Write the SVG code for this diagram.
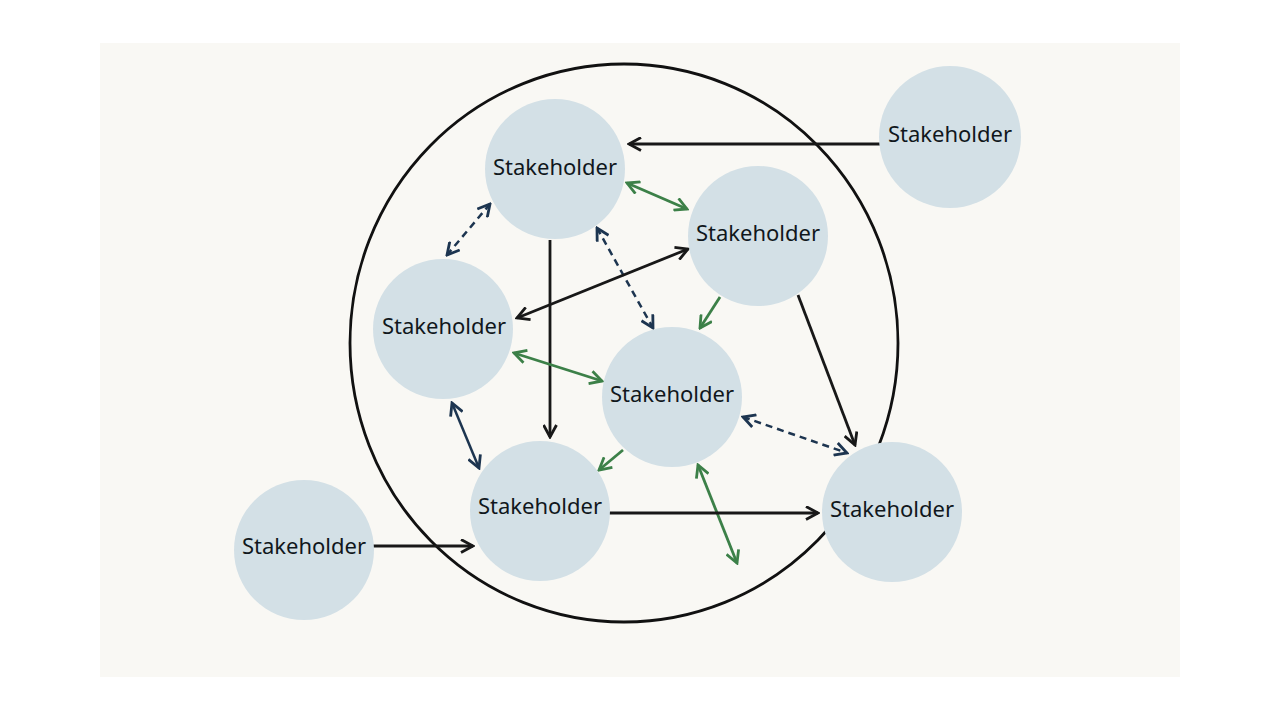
<svg xmlns="http://www.w3.org/2000/svg" width="1280" height="720" viewBox="0 0 1280 720">
<defs>
<style>
.node circle{fill:#d3e0e6}
.node text{font-family:"Noto Sans","Open Sans","DejaVu Sans",sans-serif;font-size:22px;font-weight:normal;fill:#10171c;text-anchor:middle}
.blk{stroke:#181818;stroke-width:2.8;fill:none}
.grn{stroke:#3c8048;stroke-width:2.8;fill:none}
.nvy{stroke:#1d3550;stroke-width:2.5;fill:none}
.dash{stroke-dasharray:7 5}
</style>
<marker id="aB" viewBox="0 0 15 15" refX="13" refY="7.5" markerWidth="15" markerHeight="15" markerUnits="userSpaceOnUse" orient="auto-start-reverse"><path d="M1,1 L13,7.5 L1,14" fill="none" stroke="#181818" stroke-width="2.8"/></marker>
<marker id="aG" viewBox="0 0 15 15" refX="13" refY="7.5" markerWidth="15" markerHeight="15" markerUnits="userSpaceOnUse" orient="auto-start-reverse"><path d="M1,1 L13,7.5 L1,14" fill="none" stroke="#3c8048" stroke-width="2.8"/></marker>
<marker id="aN" viewBox="0 0 15 15" refX="13" refY="7.5" markerWidth="15" markerHeight="15" markerUnits="userSpaceOnUse" orient="auto-start-reverse"><path d="M1,1 L13,7.5 L1,14" fill="none" stroke="#1d3550" stroke-width="2.8"/></marker>
</defs>
<rect x="0" y="0" width="1280" height="720" fill="#ffffff"/>
<rect x="100" y="43" width="1080" height="634" fill="#f9f8f4"/>
<ellipse id="boundary" cx="624" cy="343" rx="274" ry="279" fill="none" stroke="#111111" stroke-width="2.8"/>
<g id="connectors">
<line class="blk" x1="880" y1="144" x2="629" y2="144" marker-end="url(#aB)"/>
<line class="grn" x1="627" y1="183" x2="687" y2="209" marker-start="url(#aG)" marker-end="url(#aG)"/>
<line class="nvy dash" x1="490" y1="204" x2="447" y2="255" marker-start="url(#aN)" marker-end="url(#aN)"/>
<line class="nvy dash" x1="597" y1="228" x2="653" y2="328" marker-start="url(#aN)" marker-end="url(#aN)"/>
<line class="blk" x1="517" y1="318" x2="688" y2="249" marker-start="url(#aB)" marker-end="url(#aB)"/>
<line class="blk" x1="550" y1="240" x2="550" y2="437" marker-end="url(#aB)"/>
<line class="grn" x1="720" y1="297" x2="700" y2="328" marker-end="url(#aG)"/>
<line class="blk" x1="798" y1="295" x2="855" y2="445" marker-end="url(#aB)"/>
<line class="grn" x1="514" y1="353" x2="602" y2="381" marker-start="url(#aG)" marker-end="url(#aG)"/>
<line class="nvy" x1="452" y1="403" x2="479" y2="468" marker-start="url(#aN)" marker-end="url(#aN)"/>
<line class="grn" x1="623" y1="450" x2="599" y2="470" marker-end="url(#aG)"/>
<line class="nvy dash" x1="743" y1="417" x2="847" y2="453" marker-start="url(#aN)" marker-end="url(#aN)"/>
<line class="grn" x1="698" y1="465" x2="737" y2="563" marker-start="url(#aG)" marker-end="url(#aG)"/>
<line class="blk" x1="609" y1="513" x2="818" y2="513" marker-end="url(#aB)"/>
<line class="blk" x1="373" y1="546" x2="473" y2="546" marker-end="url(#aB)"/>
</g>
<g id="n-top" class="node"><circle cx="555" cy="169" r="70"/><text x="555" y="175">Stakeholder</text></g>
<g id="n-righttop" class="node"><circle cx="758" cy="236" r="70"/><text x="758" y="241">Stakeholder</text></g>
<g id="n-left" class="node"><circle cx="443" cy="329" r="70"/><text x="444" y="334">Stakeholder</text></g>
<g id="n-center" class="node"><circle cx="672" cy="397" r="70"/><text x="672" y="402">Stakeholder</text></g>
<g id="n-bottomcenter" class="node"><circle cx="540" cy="511" r="70"/><text x="540" y="514">Stakeholder</text></g>
<g id="n-bottomright" class="node"><circle cx="892" cy="512" r="70"/><text x="892" y="517">Stakeholder</text></g>
<g id="n-outer-topright" class="node"><circle cx="950" cy="137" r="71"/><text x="950" y="142">Stakeholder</text></g>
<g id="n-outer-bottomleft" class="node"><circle cx="304" cy="550" r="70"/><text x="304" y="554">Stakeholder</text></g>
</svg>
